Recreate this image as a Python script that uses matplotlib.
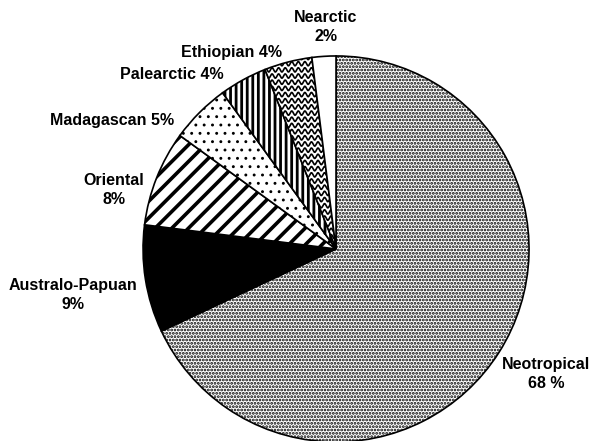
import numpy as np
import matplotlib
import matplotlib.pyplot as plt

matplotlib.use("Agg")

regions = ["Neotropical", "Australo-Papuan", "Oriental", "Madagascan",
           "Palearctic", "Ethiopian", "Nearctic"]
shares = [68, 9, 8, 5, 4, 4, 2]
label_texts = ["Neotropical\n68 %", "Australo-Papuan\n9%", "Oriental\n8%",
               "Madagascan 5%", "Palearctic 4%", "Ethiopian 4%", "Nearctic\n2%"]

# fills imitate the printed screens of the original figure
fills = ["white", "black", "white", "white", "white", "white", "white"]
hatches = [".....", None, "//", "..", "|||", None, None]
hatch_widths = [1.35, 1.0, 2.6, 0.9, 2.0, 1.0, 1.0]
# label centres, in pie-radius units (pie centre at 0, 0)
label_xy = [(1.088, -0.648), (-1.363, -0.238), (-1.150, 0.306), (-1.161, 0.668),
            (-0.850, 0.902), (-0.544, 1.016), (-0.052, 1.150)]

plt.rcParams["font.family"] = ["Liberation Sans", "DejaVu Sans"]

fig = plt.figure(figsize=(5.91, 4.41), dpi=100)
ax = fig.add_axes([0, 0, 1, 1])

wedges, _ = ax.pie(shares, startangle=90, counterclock=False, colors=fills,
                   wedgeprops=dict(edgecolor="black", linewidth=1.2))
for w, h, lw in zip(wedges, hatches, hatch_widths):
    if h:
        w.set_hatch(h)
        try:
            w.set_hatch_linewidth(lw)
        except AttributeError:
            pass

# wavy screen for the Ethiopian wedge, clipped to the wedge outline
eth = wedges[regions.index("Ethiopian")]
xs = np.linspace(-0.6, 0.2, 800)
for y0 in np.arange(0.0, 1.08, 0.032):
    line, = ax.plot(xs, y0 + 0.011 * np.sin(xs / 0.034 * 2 * np.pi),
                    color="black", linewidth=1.2, zorder=3)
    line.set_clip_path(eth)

for txt, (x, y) in zip(label_texts, label_xy):
    ax.text(x, y, txt, ha="center", va="center", fontsize=11.5,
            fontweight="bold", linespacing=1.4)

ax.set_aspect("equal")
ax.set_xlim(-1.741, 1.321)
ax.set_ylim(-0.995, 1.290)
ax.axis("off")

fig.savefig("out.png", dpi=100)
